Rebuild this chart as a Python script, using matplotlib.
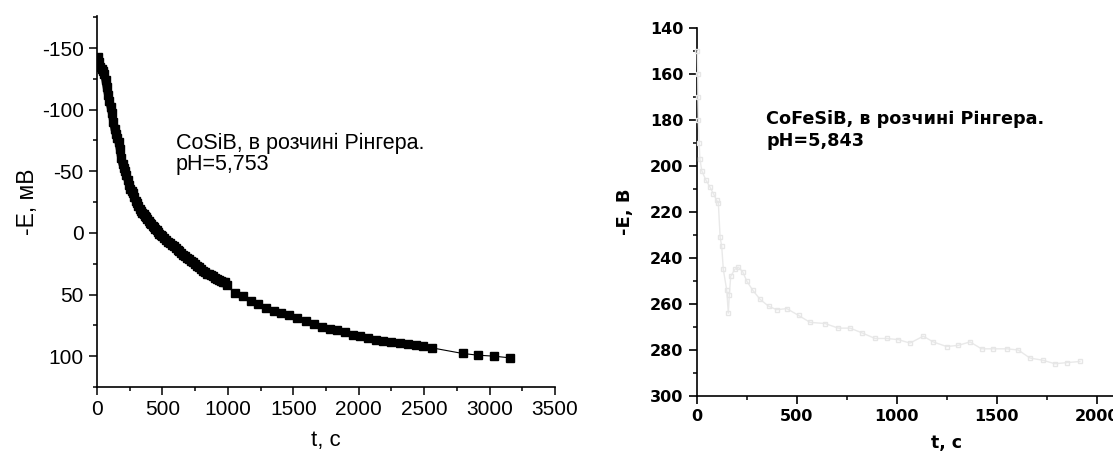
import matplotlib
matplotlib.use("Agg")
import matplotlib.pyplot as plt
from matplotlib.ticker import MultipleLocator

plt.rcParams['axes.unicode_minus'] = False

# CoSiB, left panel
t1 = [5, 15, 25, 35, 45, 55, 65, 75, 85, 95, 105, 115, 125, 135, 145, 155, 165, 175,
      185, 195, 205, 215, 225, 235, 245, 255, 265, 275, 285, 295, 305, 315, 325, 335,
      345, 355, 365, 375, 385, 395, 405, 415, 425, 435, 445, 455, 465, 475, 485, 495,
      510, 525, 540, 555, 570, 585, 600, 615, 630, 645, 660, 675, 690, 705, 720, 735,
      750, 765, 780, 795, 810, 825, 840, 855, 870, 885, 900, 915, 930, 945, 960, 975,
      990, 1051, 1112, 1173, 1232, 1290, 1349, 1409, 1468, 1529, 1600, 1659, 1718,
      1777, 1836, 1895, 1953, 2012, 2071, 2130, 2189, 2248, 2313, 2375, 2434, 2493,
      2557, 2793, 2911, 3035, 3158]
e1 = [-143, -139, -135, -133, -131, -129, -124, -118, -112, -107, -102, -97, -90, -84,
      -80, -77, -74, -68, -61, -56, -53, -50, -47, -43, -39, -36, -34, -32, -29, -26,
      -24, -22, -19, -17.5, -16, -15, -14, -13, -11, -9.5, -8, -7, -6, -4.5, -3, -2,
      -1, 0.5, 1.5, 2.5, 4, 5.5, 7, 8.5, 10, 11, 12.5, 13.5, 15, 16.5, 18, 19, 20.5,
      21.5, 23, 24, 25.5, 27, 28, 29.5, 30.5, 32, 33, 33.5, 34, 35, 36.5, 37.5, 38.5,
      39, 39.5, 40, 42, 49, 51.5, 55, 58, 61, 63.7, 65, 66.8, 68.8, 71.5, 73.9, 76.1,
      78, 78.8, 80.7, 82.9, 83.7, 85.6, 87, 87.5, 88.9, 89.7, 90.5, 91, 91.9, 93.2,
      97.8, 99.2, 100, 101.4]
n_dense = 83  # points up to ~1000 s are recorded densely

# CoFeSiB, right panel
t2 = [3, 5, 6, 8, 12, 16, 25, 45, 65, 83, 100, 108, 117, 125, 133, 150, 158, 163, 170,
      190, 208, 230, 250, 280, 317, 360, 400, 450, 510, 567, 642, 708, 767, 825, 892,
      950, 1008, 1067, 1133, 1183, 1250, 1308, 1367, 1425, 1483, 1550, 1608, 1667,
      1733, 1792, 1850, 1917]
e2 = [150, 160, 170, 180, 190, 197, 202, 206, 209, 212, 215, 216, 231, 235, 245, 254,
      264, 256, 248, 245, 244, 246, 250, 254, 258, 261, 262.5, 262, 265, 268, 268.5,
      270.5, 270.5, 272.5, 275, 275, 275.5, 277, 274, 276.5, 278.5, 278, 276.5, 279.5,
      279.5, 279.5, 280, 283.5, 284.5, 286, 285.5, 285]

fig = plt.figure(figsize=(11.13, 4.54), dpi=100)

# left panel
ax1 = fig.add_axes([0.0872, 0.1476, 0.4115, 0.8172])
ax1.plot(t1, e1, '-', color='black', lw=0.8, marker='s', ms=5.5, mec='black', mfc='black')
ax1.plot(t1[:n_dense], e1[:n_dense], '-', color='black', lw=6, solid_capstyle='butt')
ax1.set_xlim(0, 3500)
ax1.set_ylim(125, -176)
ax1.xaxis.set_major_locator(MultipleLocator(500))
ax1.xaxis.set_minor_locator(MultipleLocator(250))
ax1.set_yticks([-150, -100, -50, 0, 50, 100])
ax1.yaxis.set_minor_locator(MultipleLocator(25))
for s in ['top', 'right']:
    ax1.spines[s].set_visible(False)
for s in ['left', 'bottom']:
    ax1.spines[s].set_linewidth(1.2)
ax1.tick_params(which='major', length=6, width=1.1, labelsize=15)
ax1.tick_params(which='minor', length=3, width=1.1)
for lab in ax1.get_xticklabels() + ax1.get_yticklabels():
    lab.set_family('Liberation Sans')
ax1.set_xlabel('t, c', family='Liberation Sans', fontsize=16, labelpad=8)
ax1.set_ylabel('-E, мВ', family='Liberation Sans', fontsize=16.5, labelpad=2)
ax1.text(176, 454 - 154, 'CoSiB, в розчині Рінгера.\npH=5,753', transform=None,
         family='Liberation Sans', fontsize=15.5, va='center', ha='left',
         linespacing=1.05)

# right panel
ax2 = fig.add_axes([0.626, 0.1278, 0.449, 0.8106])
ax2.plot(t2, e2, '-', color='#e9e9e9', lw=1.0, marker='s', ms=2.5, mfc='none',
         mec='#e6e6e6', clip_on=False, zorder=5)
ax2.set_xlim(0, 2500)
ax2.set_ylim(300, 140)
ax2.xaxis.set_major_locator(MultipleLocator(500))
ax2.xaxis.set_minor_locator(MultipleLocator(250))
ax2.yaxis.set_major_locator(MultipleLocator(20))
ax2.yaxis.set_minor_locator(MultipleLocator(10))
for s in ['top', 'right']:
    ax2.spines[s].set_visible(False)
for s in ['left', 'bottom']:
    ax2.spines[s].set_linewidth(1.2)
ax2.tick_params(which='major', length=6, width=1.2, labelsize=11.5)
ax2.tick_params(which='minor', length=3, width=1.1)
for lab in ax2.get_xticklabels() + ax2.get_yticklabels():
    lab.set_family('DejaVu Sans')
    lab.set_weight('bold')
ax2.set_xlabel('t, c', family='DejaVu Sans', weight='bold', fontsize=12.5, labelpad=7)
ax2.set_ylabel('-E, В', family='DejaVu Sans', weight='bold', fontsize=13, labelpad=12)
ax2.text(766, 454 - 130, 'CoFeSiB, в розчині Рінгера.\npH=5,843', transform=None,
         family='DejaVu Sans', weight='bold', fontsize=12.7, va='center', ha='left',
         linespacing=1.25)

fig.savefig('out.png', dpi=100)
